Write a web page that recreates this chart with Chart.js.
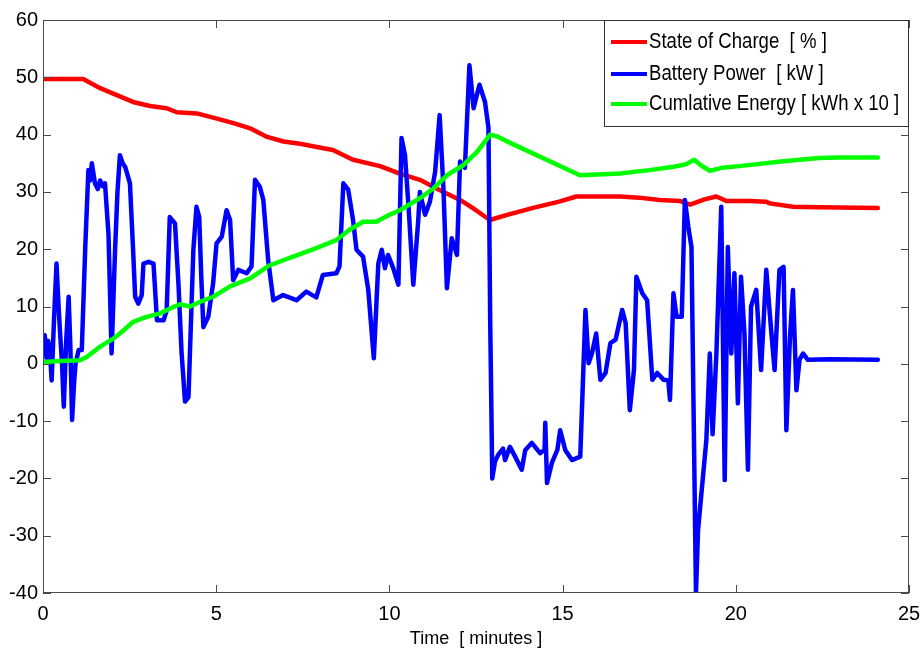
<!DOCTYPE html>
<html>
<head>
<meta charset="utf-8">
<script src="https://cdn.jsdelivr.net/npm/chart.js@4/dist/chart.umd.min.js"></script>
<style>
  html, body { margin: 0; padding: 0; background: #ffffff; }
  #wrap { width: 922px; height: 653px; }
</style>
</head>
<body>
<div id="wrap"><canvas id="c" width="922" height="653"></canvas></div>
<script>
// ---- Data ----
const seriesLabels = ["State of Charge  [ % ]", "Battery Power  [ kW ]", "Cumlative Energy [ kWh x 10 ]"];
const xTitle = "Time  [ minutes ]";

const socTime = [0, 1.16, 1.65, 2.13, 2.6, 3.09, 3.57, 3.86, 4.44, 5.02, 5.5, 5.98, 6.47, 6.94, 7.42, 7.94, 8.37, 8.95, 9.73, 10.3, 10.88, 11.46, 12.04, 12.4, 12.9, 13.4, 14.15, 14.9, 15.4, 16.66, 17.2, 17.81, 18.4, 18.68, 19.1, 19.44, 19.73, 20.4, 20.88, 20.98, 21.65, 22.4, 24.1];
const socValues = [49.7, 49.7, 48.1, 46.9, 45.7, 45.0, 44.6, 43.9, 43.7, 42.8, 42.0, 41.1, 39.6, 38.8, 38.4, 37.8, 37.3, 35.6, 34.5, 33.2, 32.1, 30.3, 28.6, 27.2, 25.1, 26.0, 27.2, 28.3, 29.2, 29.2, 29.0, 28.6, 28.4, 27.8, 28.7, 29.2, 28.4, 28.4, 28.3, 28.0, 27.4, 27.3, 27.2];

const powerTime = [0.00, 0.05, 0.10, 0.15, 0.20, 0.25, 0.32, 0.39, 0.45, 0.50, 0.55, 0.60, 0.67, 0.74, 0.79, 0.84, 0.90, 0.94, 1.03, 1.12, 1.22, 1.31, 1.36, 1.41, 1.50, 1.58, 1.65, 1.72, 1.79, 1.89, 1.98, 2.08, 2.15, 2.22, 2.30, 2.37, 2.51, 2.60, 2.66, 2.75, 2.85, 2.90, 3.05, 3.19, 3.29, 3.48, 3.57, 3.66, 3.74, 3.81, 3.91, 4.00, 4.10, 4.20, 4.34, 4.43, 4.51, 4.57, 4.63, 4.77, 4.91, 5.01, 5.16, 5.30, 5.40, 5.49, 5.64, 5.88, 6.02, 6.12, 6.26, 6.36, 6.50, 6.65, 6.93, 7.32, 7.60, 7.89, 8.08, 8.47, 8.56, 8.67, 8.81, 8.95, 9.05, 9.24, 9.39, 9.55, 9.68, 9.78, 9.87, 9.96, 10.11, 10.26, 10.35, 10.45, 10.55, 10.69, 10.83, 10.88, 11.03, 11.17, 11.32, 11.45, 11.56, 11.66, 11.80, 11.95, 12.04, 12.18, 12.31, 12.43, 12.60, 12.76, 12.86, 12.91, 12.97, 13.05, 13.14, 13.28, 13.34, 13.48, 13.63, 13.82, 13.92, 14.11, 14.35, 14.48, 14.50, 14.55, 14.69, 14.85, 14.93, 15.08, 15.27, 15.51, 15.66, 15.75, 15.85, 15.97, 16.09, 16.24, 16.38, 16.53, 16.72, 16.82, 16.94, 17.06, 17.13, 17.30, 17.44, 17.59, 17.73, 17.92, 18.05, 18.10, 18.20, 18.29, 18.44, 18.53, 18.63, 18.72, 18.85, 18.91, 19.15, 19.25, 19.33, 19.44, 19.58, 19.68, 19.77, 19.87, 19.96, 20.06, 20.15, 20.25, 20.35, 20.44, 20.59, 20.73, 20.88, 21.02, 21.12, 21.26, 21.38, 21.46, 21.56, 21.65, 21.75, 21.84, 21.94, 22.08, 22.70, 24.10];
const powerValues = [3, 5, 1, 4, 2, -2.9, 8, 17.5, 10, 4.7, 0, -7.5, 4, 11.7, 3, -9.8, -3, 0, 2.4, 2.4, 20.4, 33.8, 32, 35, 31.5, 30.5, 32, 31, 31.5, 22.7, 1.8, 19.8, 30, 36.4, 35, 34.4, 31.5, 20, 11.7, 10.5, 12, 17.5, 17.8, 17.5, 7.6, 7.6, 9.3, 25.6, 25, 24.5, 14, 2, -6.6, -5.8, 19.8, 27.4, 25.6, 15, 6.4, 8.2, 14, 21, 22.2, 26.8, 25.1, 14.6, 16.4, 15.8, 17, 32.1, 30.9, 28.6, 18.1, 11.1, 12, 11.1, 12.6, 11.6, 15.5, 15.8, 17, 31.5, 30.4, 25.1, 19.9, 18.7, 12.9, 0.96, 17.5, 19.9, 16.7, 19, 16.7, 13.8, 39.4, 36.4, 27.7, 13.8, 24.8, 30, 26, 28.3, 33.5, 43.4, 30.6, 13.2, 21.9, 19, 35.3, 34.2, 52.1, 44.6, 48.7, 45.7, 41.2, 7.4, -20, -17, -15.9, -14.8, -16.8, -14.5, -16.2, -18.5, -15.1, -13.8, -15.6, -15, -10.3, -20.8, -17.3, -15, -11.6, -15.1, -16.8, -16.2, 9.4, 0.1, 1.9, 5.3, -2.8, -1.6, 3.6, 4.2, 9.4, 7.1, -8.1, -1.1, 15.2, 12.3, 11.1, -2.8, -1.6, -2.8, -2.9, -6.3, 12.3, 8.2, 8.2, 28.6, 23.9, 20.4, -40, -29, -13.3, 1.8, -12.3, 1.8, 27.4, -20.3, 20.4, 1.8, 15.8, -6.9, 15.2, 5.3, -18.5, 10, 12.9, -1.1, 16.4, 5.9, -1.1, 16.4, 16.9, -11.6, 4.2, 12.9, -4.6, 0.7, 1.8, 0.7, 0.8, 0.7];

const energyTime = [0, 0.49, 1.07, 1.26, 1.65, 2.03, 2.22, 2.6, 2.99, 3.38, 3.76, 3.95, 4.24, 4.53, 4.91, 5.4, 5.98, 6.55, 7.22, 7.89, 8.47, 8.85, 9.24, 9.62, 10.0, 10.3, 10.88, 11.27, 11.66, 12.14, 12.53, 12.91, 13.1, 13.47, 15.5, 16.66, 17.5, 18.2, 18.55, 18.8, 19.0, 19.25, 19.6, 20.1, 21.3, 22.4, 23.0, 24.1];
const energyValues = [0.3, 0.5, 0.6, 1.2, 3.0, 4.4, 5.3, 7.3, 8.2, 8.8, 9.9, 10.4, 10.0, 10.8, 11.7, 13.5, 14.9, 17.2, 18.7, 20.2, 21.6, 23.4, 24.8, 24.8, 26.0, 26.8, 28.9, 30.6, 32.9, 34.7, 37.0, 40.0, 39.7, 38.6, 32.9, 33.2, 33.8, 34.4, 34.8, 35.6, 34.6, 33.7, 34.2, 34.5, 35.3, 35.9, 36.0, 36.0];

const xTicks = [0, 5, 10, 15, 20, 25];
const yTicks = [-40, -30, -20, -10, 0, 10, 20, 30, 40, 50, 60];
const seriesColors = ["#ff0000", "#0000ff", "#00ff00"];

function pts(xs, ys) { return xs.map((v, i) => ({ x: v, y: ys[i] })); }

const FONT = "'Liberation Sans', Arial, Helvetica, sans-serif";

const boxPlugin = {
  id: 'matlabBox',
  afterDatasetsDraw(chart) {
    const { ctx, chartArea: a, scales } = chart;
    const xs = scales.x, ys = scales.y;
    ctx.save();
    ctx.strokeStyle = '#4a4a4a';
    ctx.lineWidth = 1;
    ctx.strokeRect(a.left + 0.5, a.top + 0.5, a.right - a.left - 1, a.bottom - a.top - 1);
    const L = 8;
    ctx.beginPath();
    xs.ticks.forEach(t => {
      const px = Math.round(xs.getPixelForValue(t.value)) + 0.5;
      ctx.moveTo(px, a.bottom); ctx.lineTo(px, a.bottom - L);
      ctx.moveTo(px, a.top); ctx.lineTo(px, a.top + L);
    });
    ys.ticks.forEach(t => {
      const py = Math.round(ys.getPixelForValue(t.value)) + 0.5;
      ctx.moveTo(a.left, py); ctx.lineTo(a.left + L, py);
      ctx.moveTo(a.right, py); ctx.lineTo(a.right - L, py);
    });
    ctx.stroke();

    // legend box (top-right, inside axes)
    const lw = 305, lh = 107;
    const lx = a.right - lw, ly = a.top;
    ctx.fillStyle = '#ffffff';
    ctx.fillRect(lx, ly, lw, lh);
    ctx.strokeStyle = '#333333';
    ctx.strokeRect(lx + 0.5, ly + 0.5, lw - 1, lh - 1);
    const rows = [22, 54, 84];
    ctx.textBaseline = 'middle';
    ctx.textAlign = 'left';
    chart.data.datasets.forEach((ds, i) => {
      const yy = ly + rows[i];
      ctx.strokeStyle = ds.borderColor;
      ctx.lineWidth = 4;
      ctx.beginPath();
      ctx.moveTo(lx + 7, yy); ctx.lineTo(lx + 43, yy);
      ctx.stroke();
      ctx.save();
      ctx.translate(lx + 45, yy);
      ctx.scale(0.93, 1.12);
      ctx.font = '20px ' + FONT;
      ctx.fillStyle = '#000000';
      ctx.fillText(ds.label, 0, 0);
      ctx.restore();
    });
    ctx.restore();
  }
};

new Chart(document.getElementById('c'), {
  type: 'line',
  data: {
    datasets: [
      { label: seriesLabels[0], data: pts(socTime, socValues), borderColor: seriesColors[0], order: 3 },
      { label: seriesLabels[1], data: pts(powerTime, powerValues), borderColor: seriesColors[1], order: 2 },
      { label: seriesLabels[2], data: pts(energyTime, energyValues), borderColor: seriesColors[2], order: 1 }
    ]
  },
  options: {
    responsive: false,
    devicePixelRatio: 1,
    animation: false,
    elements: {
      line: { borderWidth: 4.5, tension: 0, fill: false, borderJoinStyle: 'round', borderCapStyle: 'round' },
      point: { radius: 0, hoverRadius: 0 }
    },
    layout: { padding: { left: 0, top: 20, right: 13, bottom: 0 } },
    plugins: { legend: { display: false }, tooltip: { enabled: false } },
    scales: {
      x: {
        type: 'linear', min: 0, max: 25,
        afterBuildTicks: s => { s.ticks = xTicks.map(v => ({ value: v })); },
        afterFit: s => { s.height = 60; s.paddingLeft = 0; s.paddingRight = 0; },
        grid: { display: false, drawTicks: false },
        border: { display: false },
        ticks: { color: '#000', font: { family: FONT, size: 20 }, padding: 9, maxRotation: 0, autoSkip: false },
        title: { display: true, text: xTitle, color: '#000', font: { family: FONT, size: 18 }, padding: { top: 0, bottom: 3 } }
      },
      y: {
        type: 'linear', min: -40, max: 60,
        afterBuildTicks: s => { s.ticks = yTicks.map(v => ({ value: v })); },
        afterFit: s => { s.width = 43; s.paddingTop = 0; s.paddingBottom = 0; },
        grid: { display: false, drawTicks: false },
        border: { display: false },
        ticks: { color: '#000', font: { family: FONT, size: 20 }, padding: 5, autoSkip: false }
      }
    }
  },
  plugins: [boxPlugin]
});
</script>
</body>
</html>
